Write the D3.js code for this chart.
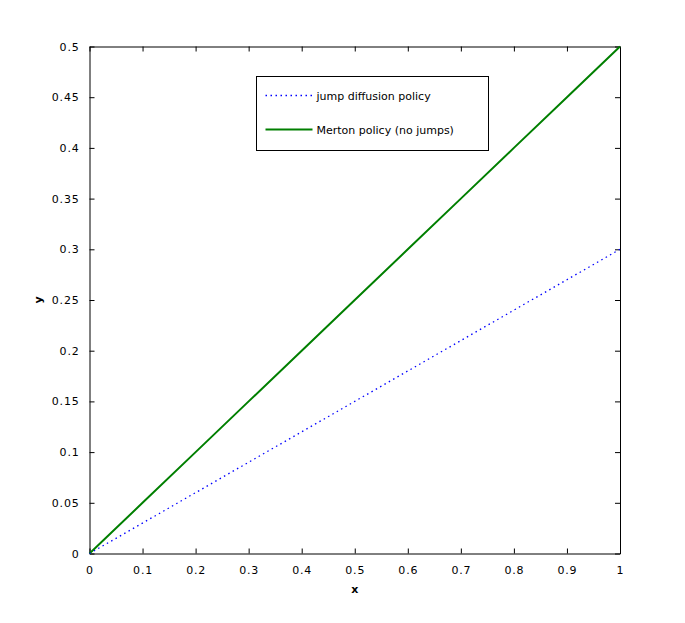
<!DOCTYPE html>
<html>
<head>
<meta charset="utf-8">
<script src="https://cdn.jsdelivr.net/npm/d3@7"></script>
<style>
  body { margin: 0; background: #fff; }
  text { font-family: "DejaVu Sans", sans-serif; font-size: 11px; fill: #000; }
</style>
</head>
<body>
<div id="chart"></div>
<script>
// data
const xValues = [0, 0.1, 0.2, 0.3, 0.4, 0.5, 0.6, 0.7, 0.8, 0.9, 1];
const jumpValues = [0, 0.03, 0.06, 0.09, 0.12, 0.15, 0.18, 0.21, 0.24, 0.27, 0.30];
const mertonValues = [0, 0.05, 0.10, 0.15, 0.20, 0.25, 0.30, 0.35, 0.40, 0.45, 0.50];
const xTicks = [0, 0.1, 0.2, 0.3, 0.4, 0.5, 0.6, 0.7, 0.8, 0.9, 1];
const yTicks = [0, 0.05, 0.1, 0.15, 0.2, 0.25, 0.3, 0.35, 0.4, 0.45, 0.5];
const seriesNames = ["jump diffusion policy", "Merton policy (no jumps)"];

const width = 685, height = 623;
const margin = { top: 46.5, right: 65, bottom: 69.5, left: 89.5 };

const svg = d3.select("#chart").append("svg")
  .attr("width", width)
  .attr("height", height);

const x = d3.scaleLinear().domain([0, 1]).range([margin.left, width - margin.right]);
const y = d3.scaleLinear().domain([0, 0.5]).range([height - margin.bottom, margin.top]);

const fmt = d => String(d);

// axes, ticks pointing inward on all four sides
svg.append("g")
  .attr("transform", `translate(0,${y(0)})`)
  .call(d3.axisBottom(x).tickValues(xTicks).tickFormat(fmt).tickSizeInner(-5).tickSizeOuter(0).tickPadding(13));
svg.append("g")
  .attr("transform", `translate(0,${y(0.5)})`)
  .call(d3.axisTop(x).tickValues(xTicks).tickFormat("").tickSizeInner(-5).tickSizeOuter(0));
svg.append("g")
  .attr("transform", `translate(${x(0)},0)`)
  .call(d3.axisLeft(y).tickValues(yTicks).tickFormat(fmt).tickSizeInner(-5).tickSizeOuter(0).tickPadding(10));
svg.append("g")
  .attr("transform", `translate(${x(1)},0)`)
  .call(d3.axisRight(y).tickValues(yTicks).tickFormat("").tickSizeInner(-5).tickSizeOuter(0));

svg.selectAll(".domain, .tick line").attr("stroke", "#000");
svg.selectAll(".tick text")
  .style("font-family", "'DejaVu Sans', sans-serif")
  .style("font-size", "11px")
  .style("letter-spacing", "0.8px")
  .attr("fill", "#000");

// series
const line = d3.line().x(d => x(d[0])).y(d => y(d[1]));

svg.append("path")
  .datum(xValues.map((v, i) => [v, mertonValues[i]]))
  .attr("d", line)
  .attr("fill", "none")
  .attr("stroke", "#007f00")
  .attr("stroke-width", 2);

svg.append("path")
  .datum(xValues.map((v, i) => [v, jumpValues[i]]))
  .attr("d", line)
  .attr("fill", "none")
  .attr("stroke", "#0000ff")
  .attr("stroke-width", 1.3)
  .attr("stroke-dasharray", "1.5,3.5");

// axis labels
svg.append("text")
  .attr("x", x(0.5)).attr("y", 593)
  .attr("text-anchor", "middle")
  .style("font-weight", "bold")
  .text("x");

svg.append("text")
  .attr("transform", `translate(42,${y(0.25)}) rotate(-90)`)
  .attr("text-anchor", "middle")
  .style("font-weight", "bold")
  .text("y");

// legend
const legend = svg.append("g").attr("transform", "translate(256.5,76.5)");
legend.append("rect")
  .attr("width", 232).attr("height", 74)
  .attr("fill", "#fff").attr("stroke", "#000");

const legendStyles = [
  { color: "#0000ff", dash: "1.5,3.5", w: 1.3 },
  { color: "#007f00", dash: null, w: 2 }
];
seriesNames.forEach((name, i) => {
  const ly = 19 + i * 34;
  legend.append("line")
    .attr("x1", 9).attr("x2", 56).attr("y1", ly).attr("y2", ly)
    .attr("stroke", legendStyles[i].color)
    .attr("stroke-width", legendStyles[i].w)
    .attr("stroke-dasharray", legendStyles[i].dash);
  legend.append("text")
    .attr("x", 60).attr("y", ly + 4)
    .text(name);
});
</script>
</body>
</html>
